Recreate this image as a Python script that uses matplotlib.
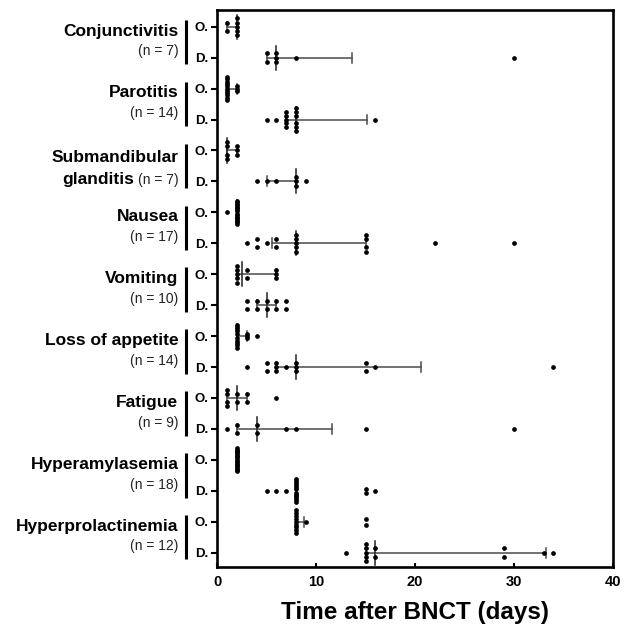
import matplotlib
matplotlib.use("Agg")
import matplotlib.pyplot as plt
import matplotlib.transforms as mtransforms
import numpy as np

plt.rcParams["font.family"] = ["Liberation Sans", "DejaVu Sans"]

categories = ["Conjunctivitis", "Parotitis", "Submandibular\nglanditis", "Nausea",
              "Vomiting", "Loss of appetite", "Fatigue", "Hyperamylasemia",
              "Hyperprolactinemia"]
n_values = [7, 14, 7, 17, 10, 14, 9, 18, 12]

# onset (O.) days per patient
onset = [
    [1, 1, 2, 2, 2, 2, 2],
    [1, 1, 1, 1, 1, 1, 1, 1, 1, 1, 1, 2, 2, 2],
    [1, 1, 1, 1, 2, 2, 2],
    [1, 2, 2, 2, 2, 2, 2, 2, 2, 2, 2, 2, 2, 2, 2, 2, 2],
    [2, 2, 2, 2, 2, 3, 3, 6, 6, 6],
    [2, 2, 2, 2, 2, 2, 2, 2, 2, 2, 3, 3, 3, 4],
    [1, 1, 1, 1, 2, 2, 3, 3, 6],
    [2, 2, 2, 2, 2, 2, 2, 2, 2, 2, 2, 2, 2, 2, 2, 2, 2, 2],
    [8, 8, 8, 8, 8, 8, 8, 8, 8, 9, 15, 15],
]
onset_med = [2, 1, 1, 2, 2.5, 2, 2, 2, 8]
onset_lo = [1, 1, 1, 2, 2, 2, 1, 2, 8]
onset_hi = [2, 2, 2, 2, 6, 3, 3, 2, 8.8]

# duration (D.) days per patient
duration = [
    [5, 5, 6, 6, 6, 8, 30],
    [5, 6, 7, 7, 7, 7, 7, 8, 8, 8, 8, 8, 8, 16],
    [4, 5, 6, 8, 8, 8, 9],
    [3, 4, 4, 5, 6, 6, 8, 8, 8, 8, 8, 15, 15, 15, 15, 22, 30],
    [3, 3, 4, 4, 5, 5, 6, 6, 7, 7],
    [3, 5, 5, 6, 6, 6, 7, 8, 8, 8, 15, 15, 16, 34],
    [1, 2, 2, 4, 4, 7, 8, 15, 30],
    [5, 6, 7, 8, 8, 8, 8, 8, 8, 8, 8, 8, 8, 8, 8, 15, 15, 16],
    [13, 15, 15, 15, 15, 15, 16, 16, 29, 29, 33, 34],
]
dur_med = [6, 8, 8, 8, 5, 8, 4, 8, 16]
dur_lo = [5, 7, 5, 5.5, 4, 6, 2, 8, 15]
dur_hi = [13.6, 15.2, 8, 15, 6, 20.6, 11.6, 8, 33.2]

row_labels = ["O.", "D."]


def stacked(vals, s0=0.135, half_max=0.37):
    uniq, counts = np.unique(vals, return_counts=True)
    kmax = counts.max()
    ext = (kmax - 1) / 2 if kmax % 2 else kmax / 2
    s = s0 if ext == 0 else min(s0, half_max / ext)
    xs, ys = [], []
    for u, k in zip(uniq, counts):
        if k % 2:
            offs = np.arange(k) - (k - 1) / 2
        else:
            h = np.arange(1, k // 2 + 1)
            offs = np.concatenate([-h, h])
        xs += [u] * k
        ys += list(offs * s)
    return np.array(xs), np.array(ys)


fig = plt.figure(figsize=(6.24, 6.26), dpi=100)
ax = fig.add_axes([0.348, 0.094, 0.634, 0.890])

rows = []
for i in range(len(categories)):
    rows.append((onset[i], onset_med[i], onset_lo[i], onset_hi[i]))
    rows.append((duration[i], dur_med[i], dur_lo[i], dur_hi[i]))

for r, (vals, med, lo, hi) in enumerate(rows):
    if hi > lo:
        ax.plot([lo, hi], [r, r], color='#4a4a4a', lw=1.1, zorder=2)
        for c in (lo, hi):
            ax.plot([c, c], [r - 0.16, r + 0.16], color='#4a4a4a', lw=1.1, zorder=2)
    ax.plot([med, med], [r - 0.39, r + 0.39], color='#222222', lw=1.1, zorder=2)
    xs, ys = stacked(vals)
    ax.plot(xs, r + ys, 'o', color='black', ms=3.4, mew=0, zorder=3)

ax.set_xlim(0, 40)
ax.set_ylim(17.47, -0.54)
ax.set_xticks([0, 10, 20, 30, 40])
ax.set_xticklabels(['0', '10', '20', '30', '40'], fontsize=10.5, fontweight='bold')
ax.set_yticks(range(len(rows)))
ax.set_yticklabels(row_labels * len(categories), fontsize=9.5, fontweight='bold')
ax.tick_params(axis='y', direction='out', length=4, width=1.5, pad=2)
ax.tick_params(axis='x', direction='in', length=3, width=1.5, pad=6)
for sp in ax.spines.values():
    sp.set_linewidth(1.9)
ax.set_xlabel('Time after BNCT (days)', fontsize=17.5, fontweight='bold', labelpad=8)

trans = mtransforms.blended_transform_factory(ax.transAxes, ax.transData)
x_txt = -0.098
x_bar = -0.078
fig.canvas.draw()
renderer = fig.canvas.get_renderer()
for g, name in enumerate(categories):
    yc = 2 * g + 0.5
    ax.plot([x_bar, x_bar], [2 * g - 0.22, 2 * g + 1.22], color='black', lw=2.2,
            transform=trans, clip_on=False, solid_capstyle='butt')
    nlab = "(n = %d)" % n_values[g]
    if "\n" in name:
        top, bottom = name.split("\n")
        ax.text(x_txt, yc - 0.27, top, transform=trans, ha='right', va='center',
                fontsize=12.5, fontweight='bold')
        t = ax.text(x_txt, yc + 0.45, nlab, transform=trans, ha='right', va='center',
                    fontsize=10, color='#222222')
        w = t.get_window_extent(renderer).width / ax.get_window_extent(renderer).width
        ax.text(x_txt - w - 0.008, yc + 0.45, bottom, transform=trans, ha='right',
                va='center', fontsize=12.5, fontweight='bold')
    else:
        ax.text(x_txt, yc - 0.36, name, transform=trans, ha='right', va='center',
                fontsize=12.5, fontweight='bold')
        ax.text(x_txt, yc + 0.30, nlab, transform=trans, ha='right', va='center',
                fontsize=10, color='#222222')

fig.savefig("out.png", dpi=100)
